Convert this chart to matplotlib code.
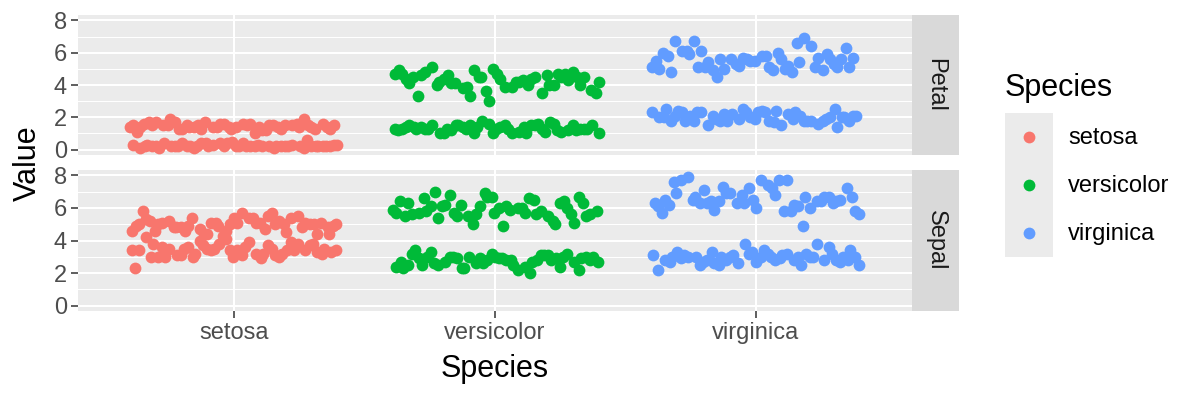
import matplotlib
matplotlib.use("Agg")
import matplotlib.pyplot as plt
import numpy as np

plt.rcParams['font.family'] = ['Liberation Sans', 'DejaVu Sans']

species = ["setosa", "versicolor", "virginica"]
colors = ["#F8766D", "#00BA38", "#619CFF"]
parts = ["Petal", "Sepal"]
y_ticks = [0, 2, 4, 6, 8]

sepal_length_setosa = [5.1,4.9,4.7,4.6,5.0,5.4,4.6,5.0,4.4,4.9,5.4,4.8,4.8,4.3,5.8,5.7,5.4,5.1,5.7,5.1,5.4,5.1,4.6,5.1,4.8,5.0,5.0,5.2,5.2,4.7,4.8,5.4,5.2,5.5,4.9,5.0,5.5,4.9,4.4,5.1,5.0,4.5,4.4,5.0,5.1,4.8,5.1,4.6,5.3,5.0]
sepal_length_versicolor = [7.0,6.4,6.9,5.5,6.5,5.7,6.3,4.9,6.6,5.2,5.0,5.9,6.0,6.1,5.6,6.7,5.6,5.8,6.2,5.6,5.9,6.1,6.3,6.1,6.4,6.6,6.8,6.7,6.0,5.7,5.5,5.5,5.8,6.0,5.4,6.0,6.7,6.3,5.6,5.5,5.5,6.1,5.8,5.0,5.6,5.7,5.7,6.2,5.1,5.7]
sepal_length_virginica = [6.3,5.8,7.1,6.3,6.5,7.6,4.9,7.3,6.7,7.2,6.5,6.4,6.8,5.7,5.8,6.4,6.5,7.7,7.7,6.0,6.9,5.6,7.7,6.3,6.7,7.2,6.2,6.1,6.4,7.2,7.4,7.9,6.4,6.3,6.1,7.7,6.3,6.4,6.0,6.9,6.7,6.9,5.8,6.8,6.7,6.7,6.3,6.5,6.2,5.9]

sepal_width_setosa = [3.5,3.0,3.2,3.1,3.6,3.9,3.4,3.4,2.9,3.1,3.7,3.4,3.0,3.0,4.0,4.4,3.9,3.5,3.8,3.8,3.4,3.7,3.6,3.3,3.4,3.0,3.4,3.5,3.4,3.2,3.1,3.4,4.1,4.2,3.1,3.2,3.5,3.6,3.0,3.4,3.5,2.3,3.2,3.5,3.8,3.0,3.8,3.2,3.7,3.3]
sepal_width_versicolor = [3.2,3.2,3.1,2.3,2.8,2.8,3.3,2.4,2.9,2.7,2.0,3.0,2.2,2.9,2.9,3.1,3.0,2.7,2.2,2.5,3.2,2.8,2.5,2.8,2.9,3.0,2.8,3.0,2.9,2.6,2.4,2.4,2.7,2.7,3.0,3.4,3.1,2.3,3.0,2.5,2.6,3.0,2.6,2.3,2.7,3.0,2.9,2.9,2.5,2.8]
sepal_width_virginica = [3.3,2.7,3.0,2.9,3.0,3.0,2.5,2.9,2.5,3.6,3.2,2.7,3.0,2.5,2.8,3.2,3.0,3.8,2.6,2.2,3.2,2.8,2.8,2.7,3.3,3.2,2.8,3.0,2.8,3.0,2.8,3.8,2.8,2.8,2.6,3.0,3.4,3.1,3.0,3.1,3.1,3.1,2.7,3.2,3.3,3.0,2.5,3.0,3.4,3.0]

petal_length_setosa = [1.4,1.4,1.3,1.5,1.4,1.7,1.4,1.5,1.4,1.5,1.5,1.6,1.4,1.1,1.2,1.5,1.3,1.4,1.7,1.5,1.7,1.5,1.0,1.7,1.9,1.6,1.6,1.5,1.4,1.6,1.6,1.5,1.5,1.4,1.5,1.2,1.3,1.4,1.3,1.5,1.3,1.3,1.3,1.6,1.9,1.4,1.6,1.4,1.5,1.4]
petal_length_versicolor = [4.7,4.5,4.9,4.0,4.6,4.5,4.7,3.3,4.6,3.9,3.5,4.2,4.0,4.7,3.6,4.4,4.5,4.1,4.5,3.9,4.8,4.0,4.9,4.7,4.3,4.4,4.8,5.0,4.5,3.5,3.8,3.7,3.9,5.1,4.5,4.5,4.7,4.4,4.1,4.0,4.4,4.6,4.0,3.3,4.2,4.2,4.2,4.3,3.0,4.1]
petal_length_virginica = [6.0,5.1,5.9,5.6,5.8,6.6,4.5,6.3,5.8,6.1,5.1,5.3,5.5,5.0,5.1,5.3,5.5,6.7,6.9,5.0,5.7,4.9,6.7,4.9,5.7,6.0,4.8,4.9,5.6,5.8,6.1,6.4,5.6,5.1,5.6,6.1,5.6,5.5,4.8,5.4,5.6,5.1,5.1,5.9,5.7,5.2,5.0,5.2,5.4,5.1]

petal_width_setosa = [0.2,0.2,0.2,0.2,0.2,0.4,0.3,0.2,0.2,0.1,0.2,0.2,0.1,0.1,0.2,0.4,0.4,0.3,0.3,0.3,0.2,0.4,0.2,0.5,0.2,0.2,0.4,0.2,0.2,0.2,0.2,0.4,0.1,0.2,0.2,0.2,0.2,0.1,0.2,0.2,0.3,0.3,0.2,0.6,0.4,0.3,0.2,0.2,0.2,0.2]
petal_width_versicolor = [1.4,1.5,1.5,1.3,1.5,1.3,1.6,1.0,1.3,1.4,1.0,1.5,1.0,1.4,1.3,1.4,1.5,1.0,1.5,1.1,1.8,1.3,1.5,1.2,1.3,1.4,1.4,1.7,1.5,1.0,1.1,1.0,1.2,1.6,1.5,1.6,1.5,1.3,1.3,1.3,1.2,1.4,1.2,1.0,1.3,1.2,1.3,1.3,1.1,1.3]
petal_width_virginica = [2.5,1.9,2.1,1.8,2.2,2.1,1.7,1.8,1.8,2.5,2.0,1.9,2.1,2.0,2.4,2.3,1.8,2.2,2.3,1.5,2.3,2.0,2.0,1.8,2.1,1.8,1.8,1.8,2.1,1.6,1.9,2.0,2.2,1.5,1.4,2.3,2.4,1.8,1.8,2.1,2.4,2.3,1.9,2.3,2.5,2.3,1.9,2.0,2.3,1.8]

data = {
    "Petal": {
        "setosa": [petal_length_setosa, petal_width_setosa],
        "versicolor": [petal_length_versicolor, petal_width_versicolor],
        "virginica": [petal_length_virginica, petal_width_virginica],
    },
    "Sepal": {
        "setosa": [sepal_length_setosa, sepal_width_setosa],
        "versicolor": [sepal_length_versicolor, sepal_width_versicolor],
        "virginica": [sepal_length_virginica, sepal_width_virginica],
    },
}

# deterministic horizontal spread (jitter of +-0.4 category units)
GOLD = 0.6180339887498949
def spread(n, start, shift):
    k = np.arange(start, start + n)
    return (((k * GOLD) + shift) % 1 - 0.5) * 0.8

W, H = 1200, 400
fig = plt.figure(figsize=(12, 4), dpi=100)

def fx(px): return px / W
def fy(py): return 1 - py / H

panel_left, panel_right = 78, 912
strip_right = 959
panels_y = {"Petal": (15, 155), "Sepal": (170, 311)}

bg = "#EBEBEB"
tick_col = "#4D4D4D"
pt_size = 72
TICK_FS = 17
TITLE_FS = 22

counter = 0
for pi, part in enumerate(parts):
    top, bot = panels_y[part]
    ax = fig.add_axes([fx(panel_left), fy(bot), fx(panel_right - panel_left), (bot - top) / H])
    ax.set_facecolor(bg)
    for s in ax.spines.values():
        s.set_visible(False)
    ax.set_xlim(0.4, 3.6)
    ax.set_ylim(-0.33, 8.33)
    ax.set_yticks(y_ticks)
    ax.set_yticks([1, 3, 5, 7], minor=True)
    ax.set_xticks([1, 2, 3])
    ax.grid(True, which="major", color="white", linewidth=1.5)
    ax.grid(True, which="minor", axis="y", color="white", linewidth=0.75)
    ax.set_axisbelow(True)
    ax.tick_params(axis="y", which="major", length=5, width=1.1, color="#333333",
                   labelcolor=tick_col, labelsize=TICK_FS, pad=3)
    ax.tick_params(axis="y", which="minor", length=0)
    if part == "Sepal":
        ax.set_xticklabels(species)
        ax.tick_params(axis="x", length=5, width=1.1, color="#333333",
                       labelcolor=tick_col, labelsize=TICK_FS, pad=3)
    else:
        ax.tick_params(axis="x", length=0, labelbottom=False)
    for si, sp in enumerate(species):
        for mi, series in enumerate(data[part][sp]):
            vals = np.array(series)
            xs = (si + 1) + spread(len(vals), counter, 0.37 * mi)
            counter += len(vals)
            ax.scatter(xs, vals, s=pt_size, color=colors[si], linewidths=0, zorder=3)

    # strip
    sax = fig.add_axes([fx(panel_right), fy(bot), fx(strip_right - panel_right), (bot - top) / H])
    sax.set_facecolor("#D9D9D9")
    sax.set_xticks([]); sax.set_yticks([])
    for s in sax.spines.values():
        s.set_visible(False)
    sax.text(0.5, 0.5, part, rotation=-90, ha="center", va="center",
             fontsize=TICK_FS, color="#1A1A1A", transform=sax.transAxes)

# axis titles
fig.text(fx(28), fy(163), "Value", rotation=90, ha="center", va="center", fontsize=TITLE_FS, color="black")
fig.text(fx(495), fy(369), "Species", ha="center", va="center", fontsize=TITLE_FS, color="black")

# legend
fig.text(fx(1005), fy(88), "Species", ha="left", va="center", fontsize=TITLE_FS, color="black")
lax = fig.add_axes([fx(1005), fy(257), fx(1053 - 1005), (257 - 113) / H])
lax.set_facecolor(bg)
lax.set_xlim(0, 1); lax.set_ylim(0, 3)
lax.set_xticks([]); lax.set_yticks([])
for s in lax.spines.values():
    s.set_visible(False)
for si, sp in enumerate(species):
    yk = 2.5 - si
    lax.scatter([0.5], [yk], s=pt_size, color=colors[si], linewidths=0)
    fig.text(fx(1068), fy(138 + 48 * si), sp, ha="left", va="center", fontsize=TICK_FS, color="black")

fig.savefig("out.png", dpi=100)
